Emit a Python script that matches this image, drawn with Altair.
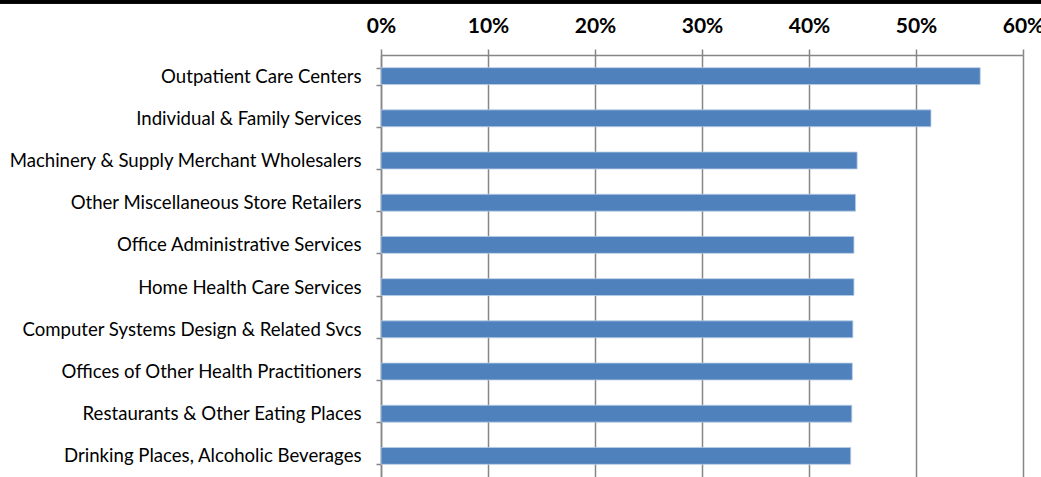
import altair as alt
import pandas as pd

categories = [
    "Outpatient Care Centers",
    "Individual & Family Services",
    "Machinery & Supply Merchant Wholesalers",
    "Other Miscellaneous Store Retailers",
    "Office Administrative Services",
    "Home Health Care Services",
    "Computer Systems Design & Related Svcs",
    "Offices of Other Health Practitioners",
    "Restaurants & Other Eating Places",
    "Drinking Places, Alcoholic Beverages",
]
values = [0.560, 0.514, 0.445, 0.4435, 0.442, 0.442, 0.441, 0.4405, 0.440, 0.439]
x_ticks = [0, 0.1, 0.2, 0.3, 0.4, 0.5, 0.6]

df = pd.DataFrame({"category": categories, "value": values})

FONT = "Lato"
GRID = "#868686"

bars = alt.Chart(df).mark_bar(
    color="#4F81BD", stroke="#B9CDE5", strokeWidth=0.8
).encode(
    x=alt.X(
        "value:Q",
        scale=alt.Scale(domain=[0, 0.6], nice=False, zero=True),
        axis=alt.Axis(
            orient="top", values=x_ticks, format=".0%", title=None,
            labelFont=FONT, labelFontSize=21, labelFontWeight="bold",
            labelColor="#000000", labelPadding=13, labelFlush=False,
            labelOverlap=False,
            tickSize=6, tickColor=GRID, tickWidth=1.5,
            domainColor=GRID, domainWidth=1.5,
            grid=True, gridColor=GRID, gridWidth=1.5,
        ),
    ),
    y=alt.Y(
        "category:N", sort=categories,
        scale=alt.Scale(paddingInner=0.6, paddingOuter=0.3),
        axis=alt.Axis(
            title=None, labelFont=FONT, labelFontSize=18.6,
            labelColor="#000000", labelPadding=15, labelLimit=400,
            tickSize=5, tickColor=GRID, tickWidth=1.5, tickBand="extent",
            domainColor=GRID, domainWidth=1.5, grid=False,
        ),
    ),
)

top_rule = alt.Chart(df).mark_rule(color="#000000", strokeWidth=3.3).encode(
    x=alt.value(-381), x2=alt.value(660), y=alt.value(-53.35)
)

chart = alt.layer(bars, top_rule).properties(
    width=642, height=422,
    padding={"left": 381, "top": 55, "right": 18, "bottom": 0},
    autosize=alt.AutoSizeParams(type="none"),
    background="#ffffff",
).configure_view(stroke=None)

chart.save("out.html", embed_options={"renderer": "svg", "actions": False})
